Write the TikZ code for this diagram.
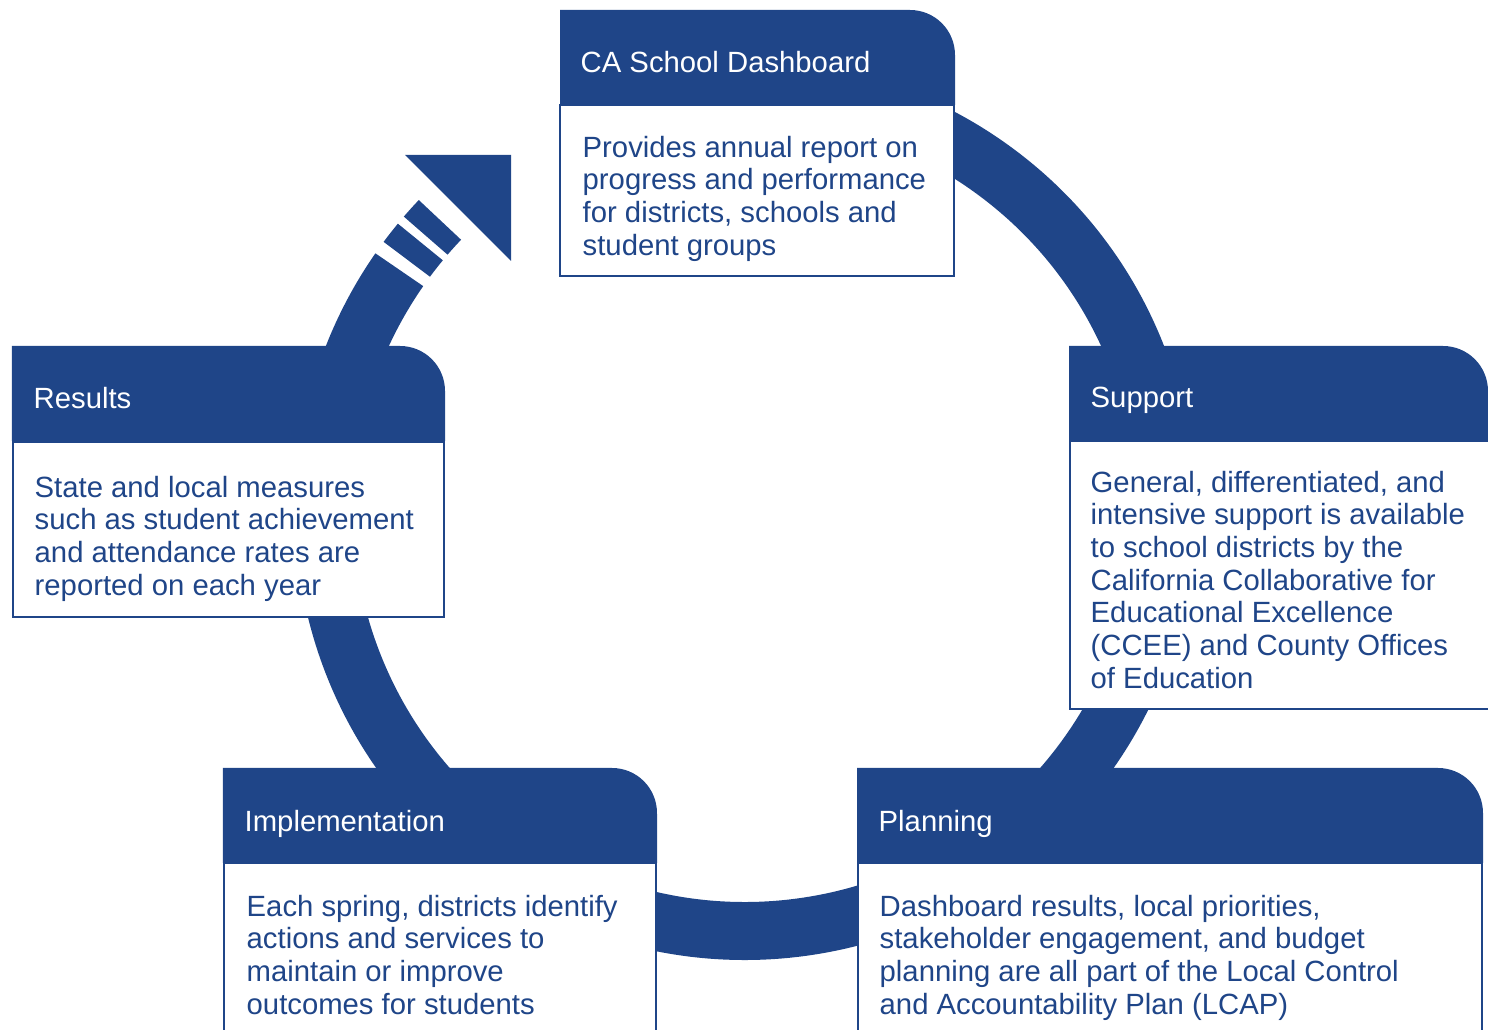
\documentclass[tikz,border=0pt]{standalone}
\usepackage{fontspec}
\setmainfont{Liberation Sans}
\definecolor{cdeblue}{RGB}{31,69,136}

\begin{document}
\begin{tikzpicture}[
    header/.style={fill=cdeblue},
    panel/.style={draw=cdeblue,line width=0.6pt,fill=white},
    ring/.style={line width=5.8mm,cdeblue},
    headtext/.style={anchor=base west,inner sep=0,white,
        font=\fontsize{8.33}{9.3}\selectfont},
    bodytext/.style={anchor=north west,inner sep=0,cdeblue,align=left,
        font=\fontsize{8.33}{9.3}\selectfont,
        execute at begin node={\rule{0pt}{6.2pt}}}]

\useasboundingbox (0,0) rectangle (14.88,10.30);
\clip (0,0) rectangle (14.88,10.30);

% the cycle ring
\draw [ring] (7.45,5.20) ++(145.2:4.21)
    arc [start angle=145.2,end angle=470,radius=4.21];
\draw [ring] (7.45,5.20) ++(143.45:4.21)
    arc [start angle=143.45,end angle=140.46,radius=4.21];
\draw [ring] (7.45,5.20) ++(139.33:4.21)
    arc [start angle=139.33,end angle=136.44,radius=4.21];
\fill [cdeblue] (4.05,8.75) -- (5.11,8.75) -- (5.11,7.69) -- cycle;

% boxes
\draw [panel] (5.60,7.54) rectangle (9.54,9.25);
\fill [header] (5.60,9.25) -- (5.60,10.20) -- (9.10,10.20)
    arc [start angle=90,end angle=0,radius=0.45] -- (9.55,9.25) -- cycle;

\draw [panel] (0.13,4.13) rectangle (4.44,5.88);
\fill [header] (0.12,5.89) -- (0.12,6.84) -- (4.00,6.84)
    arc [start angle=90,end angle=0,radius=0.45] -- (4.45,5.89) -- cycle;

\draw [panel] (10.70,3.21) rectangle (14.95,5.89);
\fill [header] (10.69,5.89) -- (10.69,6.84) -- (14.43,6.84)
    arc [start angle=90,end angle=0,radius=0.45] -- (14.88,5.89) -- cycle;

\draw [panel] (2.24,-0.20) rectangle (6.56,1.67);
\fill [header] (2.23,1.67) -- (2.23,2.62) -- (6.12,2.62)
    arc [start angle=90,end angle=0,radius=0.45] -- (6.57,1.67) -- cycle;

\draw [panel] (8.58,-0.20) rectangle (14.82,1.67);
\fill [header] (8.57,1.67) -- (8.57,2.62) -- (14.38,2.62)
    arc [start angle=90,end angle=0,radius=0.45] -- (14.83,1.67) -- cycle;

% some text (body nodes hang from the first baseline + 0.218)
\node [headtext] (dashhead) at (5.80,9.57) {CA School Dashboard};
\node [bodytext] (dashtext) at (5.82,8.948)
    {Provides annual report on\\progress and performance\\for districts, schools and\\student groups};

\node [headtext] (reshead) at (0.33,6.21) {Results};
\node [bodytext] (restext) at (0.34,5.548)
    {State and local measures\\such as student achievement\\and attendance rates are\\reported on each year};

\node [headtext] (suphead) at (10.90,6.22) {Support};
\node [bodytext] (suptext) at (10.90,5.598)
    {General, differentiated, and\\intensive support is available\\to school districts by the\\California Collaborative for\\Educational Excellence\\(CCEE) and County Offices\\of Education};

\node [headtext] (imphead) at (2.44,1.98) {Implementation};
\node [bodytext] (imptext) at (2.46,1.358)
    {Each spring, districts identify\\actions and services to\\maintain or improve\\outcomes for students};

\node [headtext] (planhead) at (8.78,1.98) {Planning};
\node [bodytext] (plantext) at (8.79,1.358)
    {Dashboard results, local priorities,\\stakeholder engagement, and budget\\planning are all part of the Local Control\\and Accountability Plan (LCAP)};

\end{tikzpicture}
\end{document}
